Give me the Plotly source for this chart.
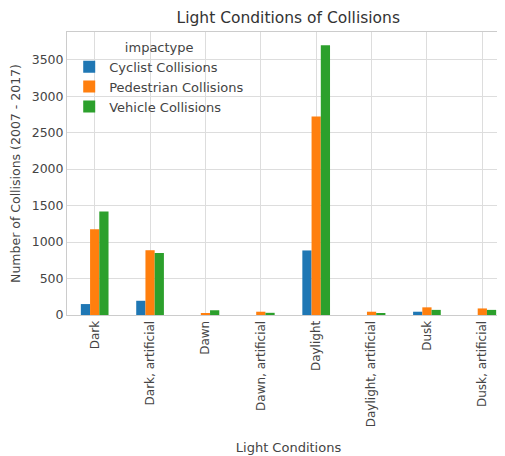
import plotly.graph_objects as go

categories = ["Dark", "Dark, artificial", "Dawn", "Dawn, artificial", "Daylight",
              "Daylight, artificial", "Dusk", "Dusk, artificial"]
cyclist = [150, 195, 0, 0, 885, 0, 45, 0]
pedestrian = [1175, 888, 25, 45, 2720, 45, 105, 90]
vehicle = [1420, 850, 65, 30, 3700, 25, 70, 70]

series = [("Cyclist Collisions", cyclist, "#1f77b4"),
          ("Pedestrian Collisions", pedestrian, "#ff7f0e"),
          ("Vehicle Collisions", vehicle, "#2ca02c")]

fig = go.Figure()
for name, vals, col in series:
    fig.add_trace(go.Bar(x=categories, y=vals, name=name, marker_color=col,
                         marker_line_width=0))

font = "DejaVu Sans"
fig.update_layout(
    width=505, height=456,
    margin=dict(l=59, r=3, t=24, b=149),
    paper_bgcolor="white", plot_bgcolor="white",
    barmode="group", bargap=0.5, bargroupgap=0,
    font=dict(family=font, size=12, color="#444444"),
    title=dict(text="Light Conditions of Collisions", x=0.555, xanchor="center",
               y=0.99, yanchor="top", font=dict(size=15.5, color="#333333")),
    legend=dict(x=0.005, y=0.99, xanchor="left", yanchor="top",
                title=dict(text="impactype", side="top center", font=dict(size=13)),
                font=dict(size=13), bgcolor="rgba(0,0,0,0)", tracegroupgap=0),
    showlegend=True,
)
fig.update_xaxes(title=dict(text="Light Conditions", font=dict(size=13), standoff=16),
                 tickangle=-90, showgrid=True, gridcolor="#dddddd", automargin=False,
                 tickfont=dict(size=12),
                 showline=True, linecolor="#cccccc", mirror=True, ticks="")
fig.update_yaxes(title=dict(text="Number of Collisions (2007 - 2017)", font=dict(size=12.5),
                            standoff=8),
                 range=[0, 3880], dtick=500, showgrid=True, gridcolor="#dddddd",
                 automargin=False, tickfont=dict(size=12.5),
                 showline=True, linecolor="#cccccc", mirror=True, zeroline=False, ticks="")

fig.write_html("out.html")
